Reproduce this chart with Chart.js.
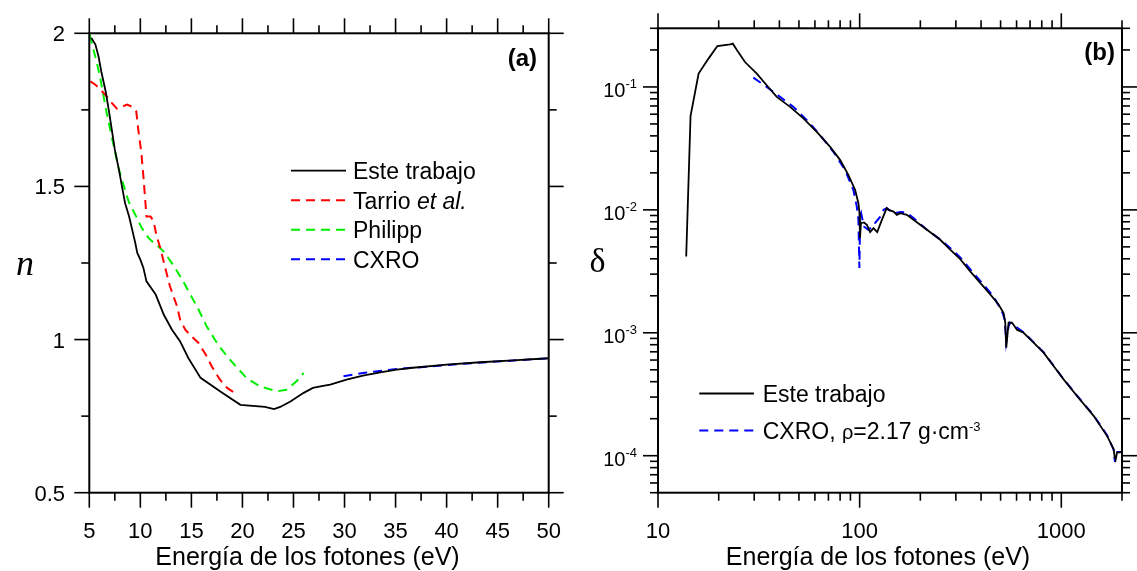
<!DOCTYPE html>
<html>
<head>
<meta charset="utf-8">
<script src="https://cdn.jsdelivr.net/npm/chart.js@4.4.1/dist/chart.umd.min.js"></script>
<style>
  html, body { margin: 0; padding: 0; background: #fff; }
  #wrap { position: relative; width: 1137px; height: 571px; overflow: hidden; }
  #wrap canvas { position: absolute; top: 0; }
  #panel-a { left: 0; }
  #panel-b { left: 570px; }
</style>
</head>
<body>
<div id="wrap">
  <canvas id="panel-a" width="570" height="571"></canvas>
  <canvas id="panel-b" width="567" height="571"></canvas>
</div>
<script>
// (a) refractive index n vs photon energy
const energyWork = [5.2, 5.6, 5.9, 6.2, 6.6, 6.9, 7.2, 7.5, 7.9, 8.2, 8.5, 8.9, 9.2, 9.5, 9.7, 10.0, 10.3, 10.6, 11.5, 12.3, 13.1, 13.9, 14.7, 15.9, 17.8, 19.8, 22.2, 23.1, 23.7, 24.7, 26.0, 26.9, 27.9, 28.6, 30.2, 31.8, 33.5, 35.1, 36.7, 40.0, 43.3, 46.5, 50.0];
const nWork = [1.985, 1.963, 1.925, 1.871, 1.811, 1.751, 1.686, 1.620, 1.555, 1.500, 1.446, 1.402, 1.359, 1.316, 1.283, 1.261, 1.234, 1.190, 1.147, 1.081, 1.032, 0.994, 0.940, 0.875, 0.831, 0.787, 0.780, 0.773, 0.780, 0.798, 0.826, 0.842, 0.849, 0.853, 0.869, 0.882, 0.893, 0.902, 0.908, 0.918, 0.926, 0.932, 0.939];

const energyTarrio = [5.1, 5.6, 6.1, 6.7, 7.2, 7.7, 8.2, 8.7, 9.2, 9.6, 9.8, 10.1, 10.3, 10.5, 10.6, 11.0, 11.3, 11.6, 11.95, 12.4, 12.9, 13.6, 13.9, 14.4, 15.0, 15.7, 16.4, 17.0, 17.8, 18.5, 19.5];
const nTarrio = [1.843, 1.832, 1.816, 1.794, 1.773, 1.754, 1.760, 1.767, 1.760, 1.745, 1.685, 1.609, 1.533, 1.446, 1.402, 1.402, 1.386, 1.337, 1.300, 1.239, 1.174, 1.108, 1.065, 1.032, 1.011, 0.989, 0.951, 0.912, 0.869, 0.842, 0.820];

const energyPhilipp = [5.05, 5.4, 5.75, 6.1, 6.4, 6.7, 7.05, 7.4, 7.9, 8.4, 8.85, 9.5, 10.15, 10.8, 11.3, 11.6, 12.4, 13.3, 14.1, 14.9, 15.7, 16.5, 17.5, 18.5, 19.5, 20.4, 21.7, 23.4, 24.3, 25.3, 26.0];
const nPhilipp = [1.995, 1.947, 1.903, 1.849, 1.794, 1.740, 1.686, 1.631, 1.555, 1.500, 1.451, 1.408, 1.364, 1.332, 1.316, 1.310, 1.283, 1.239, 1.196, 1.147, 1.098, 1.043, 0.989, 0.945, 0.907, 0.875, 0.847, 0.831, 0.836, 0.864, 0.891];

const energyCxroA = [29.9, 31.8, 35.1, 38.4, 41.6, 44.9, 50.0];
const nCxroA = [0.880, 0.891, 0.904, 0.912, 0.921, 0.928, 0.939];

// (b) decrement delta vs photon energy (log-log)
const energyWorkB = [13.8, 14.5, 15.9, 17.8, 19.7, 22.8, 23.5, 25.0, 27.0, 30.9, 34.6, 38.8, 45.2, 52.6, 61.3, 71.4, 80.1, 88.0, 95.0, 98.6, 99.8, 100.4, 101.5, 105, 108.6, 112.7, 117.1, 122.2, 128.9, 136.2, 139, 147.2, 153, 158.9, 171.5, 184.9, 215.6, 250.9, 281.2, 315.3, 353.4, 396.3, 444.3, 488.7, 517.4, 527.3, 533.3, 547.9, 569.5, 602.7, 650, 728.7, 817, 915.6, 1026.6, 1196.7, 1446.4, 1686, 1818, 1839, 1860, 1890, 2000];
const deltaWork = [0.00418, 0.0579, 0.1285, 0.170, 0.215, 0.222, 0.225, 0.192, 0.1595, 0.1285, 0.1033, 0.0829, 0.0689, 0.0555, 0.0431, 0.0326, 0.0254, 0.0192, 0.01452, 0.01133, 0.0094, 0.0059, 0.0078, 0.0079, 0.00755, 0.00659, 0.00711, 0.00659, 0.0083, 0.01033, 0.0100, 0.00969, 0.0091, 0.0094, 0.0091, 0.0083, 0.00689, 0.00571, 0.00474, 0.00397, 0.00316, 0.00255, 0.00205, 0.0017, 0.00145, 0.00121, 0.000755, 0.00121, 0.00121, 0.00106, 0.001, 0.00083, 0.000689, 0.000536, 0.000418, 0.000306, 0.000211, 0.000145, 0.000113, 0.000098, 0.000093, 0.000106, 0.000107];

const energyCxroB = [29.7, 34.6, 40.3, 46.9, 54.7, 63.7, 74.1, 84.7, 93.1, 96.8, 98.6, 99.7, 100.6, 101.7, 105, 110.2, 117.1, 119.2, 126.6, 131.5, 136.5, 147, 160, 171, 185, 215.6, 250.9, 281.2, 315.3, 366, 461, 512, 524, 533, 548, 557, 589, 650, 728.7, 817, 915.6, 1026.6, 1196.7, 1446.4, 1686, 1818, 1844, 1860, 1890, 2000];
const deltaCxro = [0.119, 0.1, 0.083, 0.0689, 0.0537, 0.0406, 0.0297, 0.0211, 0.0145, 0.01064, 0.0083, 0.00336, 0.00883, 0.0094, 0.00733, 0.0069, 0.00733, 0.0078, 0.0088, 0.0100, 0.0103, 0.0094, 0.0096, 0.0095, 0.00857, 0.0069, 0.00575, 0.0049, 0.0041, 0.00307, 0.00198, 0.00145, 0.00128, 0.00083, 0.00113, 0.00121, 0.00113, 0.00101, 0.00084, 0.000695, 0.00054, 0.00042, 0.000308, 0.000213, 0.000147, 0.000112, 0.000089, 0.000104, 0.000107, 0.000107];

// axis ticks
const energyTicksA = [5, 10, 15, 20, 25, 30, 35, 40, 45, 50];
const energyMinorA = [7.5, 12.5, 17.5, 22.5, 27.5, 32.5, 37.5, 42.5, 47.5];
const nTicks = [0.5, 1, 1.5, 2];
const nMinor = [0.75, 1.25, 1.75];
const energyTicksB = [10, 100, 1000];
const deltaTicks = [1e-4, 1e-3, 1e-2, 1e-1];
const deltaExponents = ['-4', '-3', '-2', '-1'];

const SANS = '"Liberation Sans", Arial, Helvetica, sans-serif';
const SERIF = '"Liberation Serif", "Times New Roman", serif';
const MAJOR_LEN = 15;
const MINOR_LEN = 8;
const DASH = [9, 6];

const toPoints = (xs, ys) => xs.map((x, i) => ({ x, y: ys[i] }));

// 2..9 x 10^k between lo and hi
const logMinor = (lo, hi) => {
  const out = [];
  for (let k = Math.floor(Math.log10(lo)); k <= Math.ceil(Math.log10(hi)); k++) {
    for (let m = 2; m <= 9; m++) {
      const v = m * Math.pow(10, k);
      if (v >= lo * 0.999 && v <= hi * 1.001) out.push(v);
    }
  }
  return out;
};

// text made of runs with their own font and vertical shift
function drawRuns(ctx, runs, x, y, align) {
  const widths = runs.map(r => { ctx.font = r.font; return ctx.measureText(r.text).width; });
  const total = widths.reduce((a, b) => a + b, 0);
  let cx = align === 'right' ? x - total : align === 'center' ? x - total / 2 : x;
  ctx.textAlign = 'left';
  ctx.textBaseline = 'alphabetic';
  runs.forEach((r, i) => {
    ctx.font = r.font;
    ctx.fillText(r.text, cx, y + (r.dy || 0));
    cx += widths[i];
  });
}

const axisFrame = {
  id: 'axisFrame',
  afterDatasetsDraw(chart, args, opts) {
    const ctx = chart.ctx;
    const { left, right, top, bottom } = chart.chartArea;
    const xs = chart.scales.x;
    const ys = chart.scales.y;

    ctx.save();
    ctx.strokeStyle = '#000';
    ctx.fillStyle = '#000';

    const seg = (x1, y1, x2, y2) => {
      ctx.beginPath();
      ctx.moveTo(x1, y1);
      ctx.lineTo(x2, y2);
      ctx.stroke();
    };
    const xTick = (v, len) => {
      const px = xs.getPixelForValue(v);
      seg(px, bottom, px, bottom + len);
      seg(px, top, px, top - len);
    };
    const yTick = (v, len) => {
      const py = ys.getPixelForValue(v);
      seg(left, py, left - len, py);
      seg(right, py, right + len, py);
    };

    ctx.lineWidth = 1.6;
    opts.xMinor.forEach(v => xTick(v, MINOR_LEN));
    opts.yMinor.forEach(v => yTick(v, MINOR_LEN));
    opts.xMajor.forEach(v => xTick(v, MAJOR_LEN));
    opts.yMajor.forEach(v => yTick(v, MAJOR_LEN));

    ctx.lineWidth = 2;
    ctx.strokeRect(left, top, right - left, bottom - top);

    // tick labels
    ctx.font = '22px ' + SANS;
    ctx.textAlign = 'center';
    ctx.textBaseline = 'alphabetic';
    opts.xMajor.forEach(v => ctx.fillText(String(v), xs.getPixelForValue(v), 538));
    opts.yMajor.forEach((v, i) => {
      const py = ys.getPixelForValue(v);
      drawRuns(ctx, opts.yLabelRuns(v, i), opts.yLabelRight, py + opts.yLabelShift, 'right');
    });

    // axis titles
    ctx.font = '25px ' + SANS;
    ctx.textAlign = 'center';
    ctx.fillText('Energía de los fotones (eV)', opts.titleX, 565);
    ctx.font = opts.yTitle.font;
    ctx.fillText(opts.yTitle.text, opts.yTitle.x, opts.yTitle.y);

    // panel tag
    ctx.font = 'bold 24px ' + SANS;
    ctx.textAlign = 'right';
    ctx.fillText(opts.tag.text, opts.tag.x, opts.tag.y);

    // legend
    const lg = opts.legend;
    lg.rows.forEach(row => {
      const ds = chart.data.datasets[row.dataset];
      ctx.save();
      ctx.strokeStyle = ds.borderColor;
      ctx.lineWidth = ds.borderWidth;
      ctx.setLineDash(ds.borderDash || []);
      seg(lg.x0, row.y, lg.x1, row.y);
      ctx.restore();
      drawRuns(ctx, row.runs, lg.textX, row.y + 8.5, 'left');
    });

    ctx.restore();
  }
};

const lineSet = (label, data, color, dashed) => ({
  label,
  data,
  showLine: true,
  borderColor: color,
  backgroundColor: color,
  borderWidth: dashed ? 2 : 1.8,
  borderDash: dashed ? DASH : [],
  pointRadius: 0,
  tension: 0,
  fill: false
});

const legendFont = '23px ' + SANS;

new Chart(document.getElementById('panel-a'), {
  type: 'scatter',
  data: {
    datasets: [
      lineSet('Este trabajo', toPoints(energyWork, nWork), '#000000', false),
      lineSet('Tarrio et al.', toPoints(energyTarrio, nTarrio), '#ff0000', true),
      lineSet('Philipp', toPoints(energyPhilipp, nPhilipp), '#00ee00', true),
      lineSet('CXRO', toPoints(energyCxroA, nCxroA), '#0000ff', true)
    ]
  },
  options: {
    responsive: false,
    animation: false,
    devicePixelRatio: 1,
    layout: { padding: { left: 89.3, right: 21.3, top: 33.3, bottom: 78.3 } },
    scales: {
      x: { type: 'linear', min: 5, max: 50, display: false },
      y: { type: 'linear', min: 0.5, max: 2, display: false }
    },
    plugins: {
      legend: { display: false },
      tooltip: { enabled: false },
      axisFrame: {
        xMajor: energyTicksA,
        xMinor: energyMinorA,
        yMajor: nTicks,
        yMinor: nMinor,
        yLabelRuns: v => [{ text: String(v), font: '22px ' + SANS }],
        yLabelRight: 65,
        yLabelShift: 8,
        titleX: 307.5,
        yTitle: { text: 'n', font: 'italic 36px ' + SERIF, x: 25, y: 275 },
        tag: { text: '(a)', x: 537, y: 65.5 },
        legend: {
          x0: 291, x1: 346, textX: 353,
          rows: [
            { dataset: 0, y: 170.7, runs: [{ text: 'Este trabajo', font: legendFont }] },
            { dataset: 1, y: 200.2, runs: [{ text: 'Tarrio ', font: legendFont }, { text: 'et al.', font: 'italic 23px ' + SANS }] },
            { dataset: 2, y: 229.8, runs: [{ text: 'Philipp', font: legendFont }] },
            { dataset: 3, y: 259.3, runs: [{ text: 'CXRO', font: legendFont }] }
          ]
        }
      }
    }
  },
  plugins: [axisFrame]
});

new Chart(document.getElementById('panel-b'), {
  type: 'scatter',
  data: {
    datasets: [
      lineSet('Este trabajo', toPoints(energyWorkB, deltaWork), '#000000', false),
      lineSet('CXRO', toPoints(energyCxroB, deltaCxro), '#0000ff', true)
    ]
  },
  options: {
    responsive: false,
    animation: false,
    devicePixelRatio: 1,
    layout: { padding: { left: 88, right: 15, top: 28.3, bottom: 78.3 } },
    scales: {
      x: { type: 'logarithmic', min: 10, max: 2000, display: false },
      y: { type: 'logarithmic', min: 5e-5, max: 0.3, display: false }
    },
    plugins: {
      legend: { display: false },
      tooltip: { enabled: false },
      axisFrame: {
        xMajor: energyTicksB,
        xMinor: logMinor(10, 2000),
        yMajor: deltaTicks,
        yMinor: logMinor(5e-5, 0.3),
        yLabelRuns: (v, i) => [
          { text: '10', font: '20px ' + SANS },
          { text: deltaExponents[i], font: '13px ' + SANS, dy: -9 }
        ],
        yLabelRight: 67,
        yLabelShift: 10.5,
        titleX: 308,
        yTitle: { text: 'δ', font: '34px ' + SERIF, x: 27.5, y: 272 },
        tag: { text: '(b)', x: 545, y: 60 },
        legend: {
          x0: 129.3, x1: 184, textX: 192.7,
          rows: [
            { dataset: 0, y: 393.5, runs: [{ text: 'Este trabajo', font: legendFont }] },
            { dataset: 1, y: 430.5, runs: [
              { text: 'CXRO, ', font: legendFont },
              { text: 'ρ', font: '20px ' + SANS },
              { text: '=2.17 g·cm', font: legendFont },
              { text: '-3', font: '13px ' + SANS, dy: -8 }
            ] }
          ]
        }
      }
    }
  },
  plugins: [axisFrame]
});
</script>
</body>
</html>
